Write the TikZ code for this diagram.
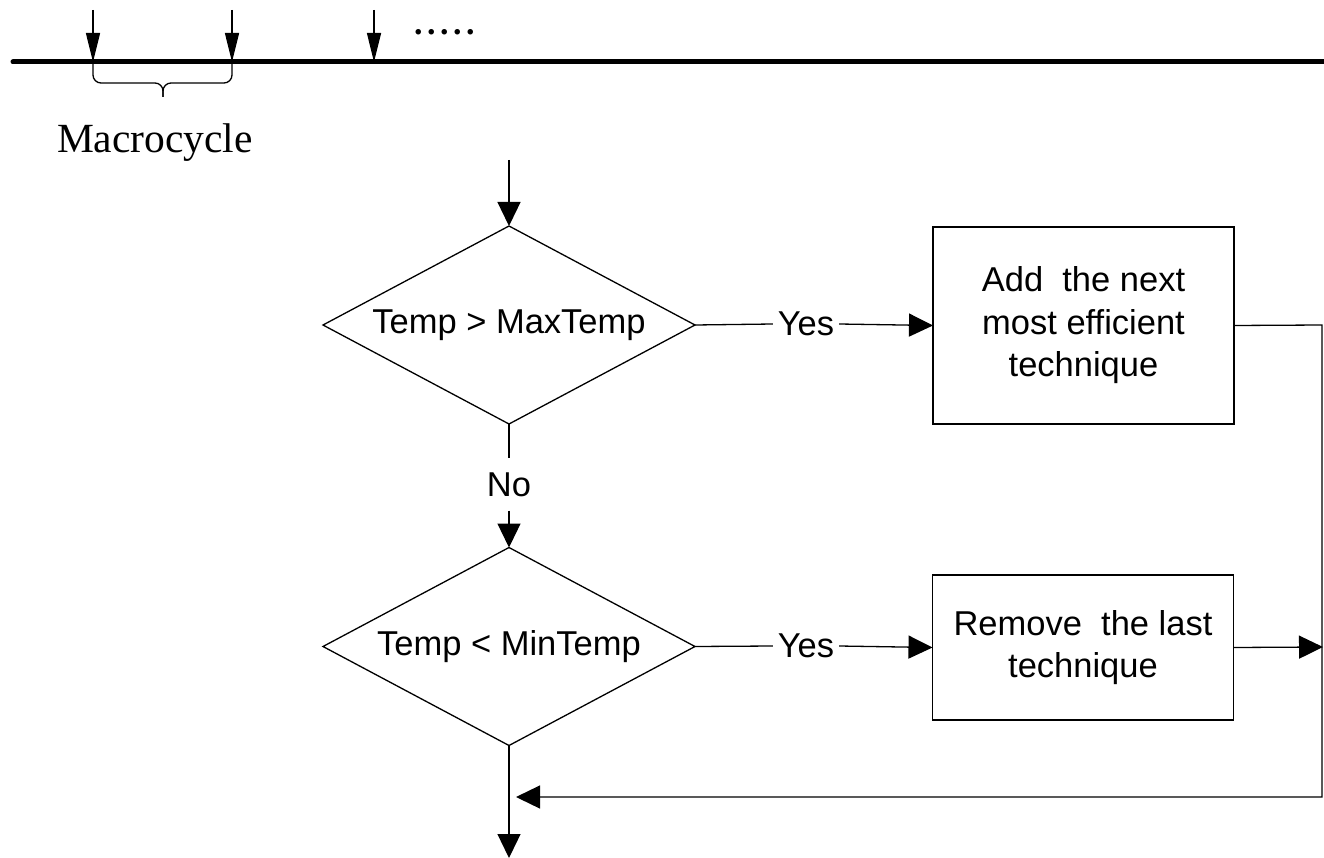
\documentclass[tikz,border=0pt]{standalone}
\usepackage{fontspec}
\setmainfont{Liberation Serif}
\newfontfamily\flowfont{Liberation Sans}
\usetikzlibrary{shapes.geometric,arrows.meta}
\begin{document}
\begin{tikzpicture}[x=1pt,y=-1pt,
  ln/.style={line width=1.3pt,black},
  flowarrow/.style={ln,-{Triangle[length=24pt,width=23pt]}},
  tickarrow/.style={ln,-{Triangle[length=29pt,width=14pt]}},
  decision/.style={shape=diamond,draw,ln,aspect=1.879,minimum width=372pt,minimum height=198pt,inner sep=0pt,outer sep=0pt,font=\flowfont\fontsize{34.5}{42.5}\selectfont},
  procbox/.style={draw,ln,minimum width=301pt,inner sep=0pt,outer sep=0pt,align=center,font=\flowfont\fontsize{34.5}{42.5}\selectfont},
  lbl/.style={inner xsep=5pt,inner ysep=0pt,outer sep=0pt,font=\flowfont\fontsize{34.5}{42.5}\selectfont}
]
\useasboundingbox (0,0) rectangle (1324,858);
% time line
\coordinate (tl0) at (13,62);
\coordinate (tl1) at (1324,62);
\draw[line width=5pt,line cap=round] (tl0) -- (tl1);
\coordinate (a1s) at (93,10);  \coordinate (a1e) at (93,62);
\coordinate (a2s) at (232,10); \coordinate (a2e) at (232,62);
\coordinate (a3s) at (374,10); \coordinate (a3e) at (374,62);
\draw[tickarrow] (a1s) -- (a1e);
\draw[tickarrow] (a2s) -- (a2e);
\draw[tickarrow] (a3s) -- (a3e);
\node[anchor=base west,inner sep=0pt,font=\bfseries\fontsize{34}{34}\selectfont] (dots) at (414,35) {.\kern4.5pt.\kern4.5pt.\kern4.5pt.\kern4.5pt.};
% brace
\coordinate (bm) at (163,83);
\coordinate (bt) at (163,97);
\draw[ln,rounded corners=8pt] (a1e) -- (93,83) -- (bm) -- (bt);
\draw[ln,rounded corners=8pt] (a2e) -- (232,83) -- (bm) -- (bt);
\node[anchor=base,inner sep=0pt,font=\fontsize{41.5}{41.5}\selectfont] (macro) at (155,153) {Macrocycle};
% flow chart
\node[decision] (d1) at (509,325) {Temp > MaxTemp};
\node[decision] (d2) at (509,646.5) {Temp < MinTemp};
\node[procbox,minimum height=197pt] (b1) at (1083.5,325.5) {Add\ \ the next\\most efficient\\technique};
\node[procbox,minimum height=145pt] (b2) at (1083,647.5) {Remove\ \ the last\\technique};
\node[lbl] (yes1) at (806,324) {Yes};
\node[lbl] (yes2) at (806,646) {Yes};
\node[lbl,inner ysep=14pt,inner xsep=0pt] (no) at (509,484.5) {No};
\coordinate (start) at (509,160);
\coordinate (c1) at (1322,325);
\coordinate (c2) at (1322,797);
\coordinate (ret) at (516,797);
\coordinate (r2) at (1323,647);
\coordinate (endpt) at (509,858);
\draw[flowarrow] (start) -- (d1.north);
\draw[ln] (d1.east) -- (yes1.west);
\draw[flowarrow] (yes1.east) -- (b1.west);
\draw[ln] (d1.south) -- (no.north);
\draw[flowarrow] (no.south) -- (d2.north);
\draw[ln] (d2.east) -- (yes2.west);
\draw[flowarrow] (yes2.east) -- (b2.west);
\draw[flowarrow] (b1.east) -- (c1) -- (c2) -- (ret);
\draw[flowarrow] (b2.east) -- (r2);
\draw[flowarrow] (d2.south) -- (endpt);
\end{tikzpicture}
\end{document}
